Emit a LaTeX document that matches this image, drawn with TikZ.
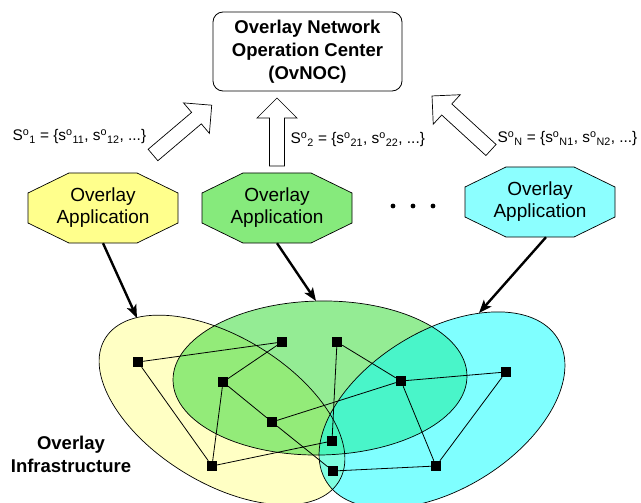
\documentclass[tikz,border=0pt]{standalone}
\usepackage{fontspec}
\setmainfont{Liberation Sans}
\usepackage{xcolor}
\usetikzlibrary{positioning, arrows.meta}
\definecolor{octYellow}{HTML}{FFFF8C}
\definecolor{octGreen}{HTML}{86EA7C}
\definecolor{octCyan}{HTML}{8CFFFF}
\definecolor{ellYellow}{HTML}{FFFFC4}
\definecolor{ellGreen}{RGB}{60,220,60}
\definecolor{ellCyan}{RGB}{0,255,255}
\newcommand{\bigSo}[1]{S\textsuperscript{o}\textsubscript{#1}}
\newcommand{\smallso}[1]{s\textsuperscript{o}\textsubscript{#1}}

\begin{document}
\begin{tikzpicture}[x=1pt, y=-1pt,
  every node/.style={font=\fontsize{19}{22}\selectfont},
  app/.style={minimum width=150pt, minimum height=70pt, inner sep=0pt, align=center},
  octagon/.style={draw, line width=0.7pt},
  router/.style={rectangle, fill=black, minimum size=10pt, inner sep=0pt},
  link/.style={line width=0.8pt},
  feed/.style={-{Stealth[length=13pt, width=10pt, inset=3pt]}, line width=2.4pt},
  hollow/.style={draw, fill=white, line width=0.7pt, line join=miter},
  region/.style={draw, line width=0.7pt},
  setlabel/.style={anchor=west, font=\fontsize{15.4}{18}\selectfont}]
\useasboundingbox (0,0) rectangle (641,503);
\clip (0,0) rectangle (641,503);
% Overlay regions (filled first, outlines on top)
\fill[ellYellow, rotate around={-31.5:(222,410)}] (222,410) ellipse (137 and 73);
\fill[ellGreen, fill opacity=0.55, rotate around={1:(320,378)}] (320,378) ellipse (147 and 77);
\fill[ellCyan, fill opacity=0.5, rotate around={31.7:(442,410)}] (442,410) ellipse (136 and 79);
\draw[region, rotate around={-31.5:(222,410)}] (222,410) ellipse (137 and 73);
\draw[region, rotate around={1:(320,378)}] (320,378) ellipse (147 and 77);
\draw[region, rotate around={31.7:(442,410)}] (442,410) ellipse (136 and 79);
% Operation center
\node[draw, line width=0.8pt, rounded corners=10pt, minimum width=189pt, minimum height=79pt,
  align=center, font=\fontsize{18.5}{23}\selectfont\bfseries] (noc) at (307.5,51.5)
  {Overlay Network\\Operation Center\\(OvNOC)};
% Applications
\foreach \name/\x/\y/\col in {app1/103/208/octYellow, app2/277/208/octGreen, appN/540/202/octCyan} {
  \draw[octagon, fill=\col, shift={(\x,\y)}] (-75,-15) -- (-34,-35) -- (34,-35) -- (75,-15)
    -- (75,15) -- (34,35) -- (-34,35) -- (-75,15) -- cycle;
  \node[app] (\name) at (\x,\y) {Overlay\\Application};
}
\foreach \x in {393,413,433} {
  \fill (\x,206) circle (2.4pt);
}
% Hollow arrows towards the OvNOC
\coordinate (t1) at (153,155);
\coordinate (t2) at (277,166);
\coordinate (tN) at (491,150);
\foreach \t/\a/\l in {t1/40.3/77, t2/90/68, tN/137.5/80} {
  \draw[hollow, shift={(\t)}, rotate=\a] (0,-7.5) -- (\l-20,-7.5) -- (\l-20,-20) -- (\l,0)
    -- (\l-20,20) -- (\l-20,7.5) -- (0,7.5) -- cycle;
}
\node[setlabel] (s1) at (9,137) {\bigSo{1} = \{\smallso{11}, \smallso{12}, ...\}};
\node[setlabel] (s2) at (287,140) {\bigSo{2} = \{\smallso{21}, \smallso{22}, ...\}};
\node[setlabel] (sN) at (494,139) {\bigSo{N} = \{\smallso{N1}, \smallso{N2}, ...\}};
% Applications mapped onto the infrastructure
\coordinate (e1) at (137,318);
\coordinate (e2) at (316,301);
\coordinate (eN) at (479,313);
\draw[feed] (app1.south) -- (e1);
\draw[feed] (app2.south) -- (e2);
\draw[feed] ([xshift=6pt]appN.south) -- (eN);
% Routers
\foreach \n/\x/\y in {1/138/362, 2/282/342, 3/337/342, 4/223/382, 5/401/381, 6/506/372,
  7/272/422, 8/332/441, 9/212/466, 10/333/471, 11/436/466} {
  \node[router] (n\n) at (\x,\y) {};
}
\foreach \a/\b in {1/2, 1/9, 2/4, 4/9, 4/7, 7/10, 7/5, 9/8, 3/8, 3/5, 5/6, 5/11, 6/11, 10/11} {
  \draw[link] (n\a) -- (n\b);
}
\node[align=center, font=\fontsize{18.5}{23}\selectfont\bfseries] (infra) at (71,454)
  {Overlay\\Infrastructure};
\end{tikzpicture}
\end{document}
